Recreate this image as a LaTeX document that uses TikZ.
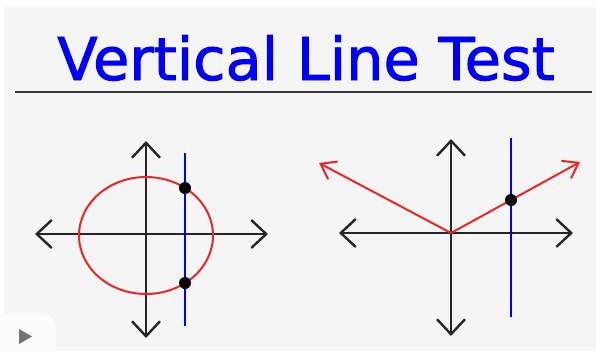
\documentclass[tikz,border=0pt]{standalone}
\usepackage{fontspec}
\setmainfont{DejaVu Sans}
\newfontfamily\titlefont{DejaVu Sans}[FakeBold=1.6]
\usepackage{xcolor}
\usepackage{tikz}
\usetikzlibrary{arrows.meta}
\usetikzlibrary{positioning}

\definecolor{panelgray}{RGB}{245,245,245}
\definecolor{rulegray}{RGB}{55,55,55}
\definecolor{curvered}{RGB}{230,40,40}
\definecolor{testblue}{RGB}{0,0,250}

\begin{document}
\begin{tikzpicture}[
  x=1pt, y=-1pt,
  every node/.style={inner sep=0pt, outer sep=0pt},
  axis/.style={{Straight Barb[length=15pt, width=28pt]}-{Straight Barb[length=15pt, width=28pt]}, line width=2.4pt, black!85},
  graph/.style={line width=2pt, curvered},
  ray/.style={-{Straight Barb[length=14pt, width=20pt]}, line width=2pt, curvered},
  testline/.style={line width=2pt, testblue},
  hit/.style={circle, fill=black, minimum size=12pt},
]
\useasboundingbox (0,0) rectangle (596,351);
\fill[white] (0,0) rectangle (596,351);
\fill[panelgray] (4,7) rectangle (596,351);

%% Title
\node[anchor=base, font=\titlefont\fontsize{59}{62}\selectfont, text=testblue] (title) at (306,80) {Vertical Line Test};
\coordinate (ruleL) at (15,92);
\coordinate (ruleR) at (592,92);
\draw[line width=2.6pt, rulegray] (ruleL) -- (ruleR);

%% Graph 1: circle
\coordinate (O1) at (146,235.5);
\coordinate (xL1) at (35,234);
\coordinate (xR1) at (268,234);
\coordinate (yT1) at (146,141);
\coordinate (yB1) at (146,338);
\draw[axis] (xL1) -- (xR1);
\draw[axis] (yB1) -- (yT1);
\draw[graph] (O1) ellipse [x radius=67, y radius=58.5];
\coordinate (vT1) at (185,153);
\coordinate (vB1) at (185,326);
\draw[testline] (vT1) -- (vB1);
\node[hit] (p1) at (185,188) {};
\node[hit] (p2) at (185,283) {};

%% Graph 2: absolute value
\coordinate (O2) at (451,233);
\coordinate (xL2) at (339,233);
\coordinate (xR2) at (573,233);
\coordinate (yT2) at (451,139);
\coordinate (yB2) at (451,336);
\draw[axis] (xL2) -- (xR2);
\draw[axis] (yB2) -- (yT2);
\coordinate (rL) at (319,163);
\coordinate (rR) at (580,162);
\draw[ray] (O2) -- (rL);
\draw[ray] (O2) -- (rR);
\coordinate (vT2) at (511,138);
\coordinate (vB2) at (511,317);
\draw[testline] (vT2) -- (vB2);
\node[hit] (p3) at (511,200) {};

%% Play button
\fill[white!70!panelgray, rounded corners=12pt] (-10,314) rectangle (56,365);
\fill[black!55] (19,329) -- (19,344) -- (32,336.5) -- cycle;

\end{tikzpicture}
\end{document}
